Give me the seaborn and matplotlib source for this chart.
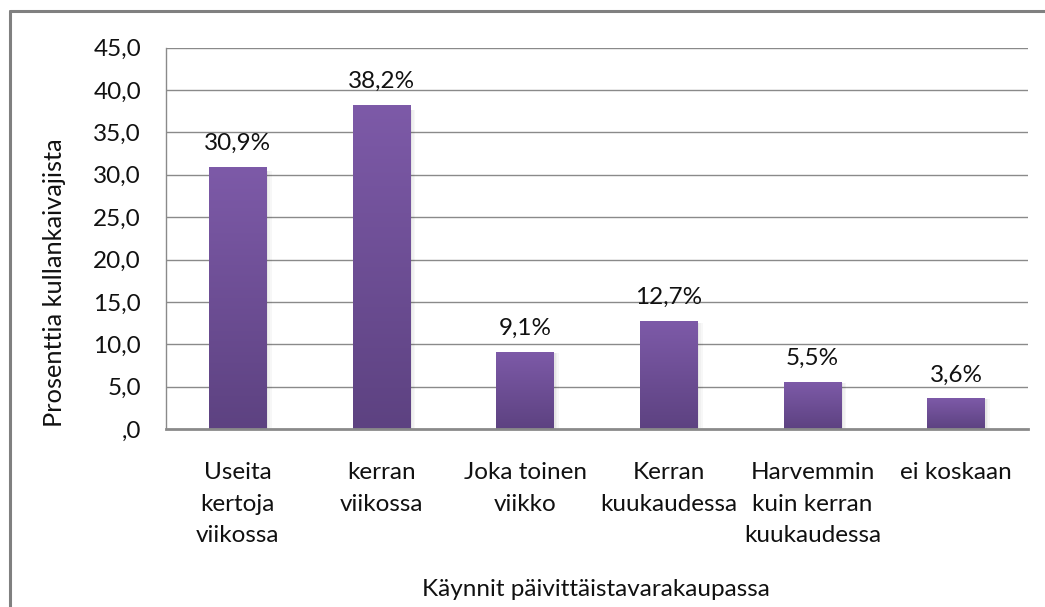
import matplotlib
matplotlib.use("Agg")
import matplotlib.pyplot as plt
import matplotlib.colors as mcolors
from matplotlib.lines import Line2D
import numpy as np
import pandas as pd
import seaborn as sns

categories = ["Useita\nkertoja\nviikossa", "kerran\nviikossa", "Joka toinen\nviikko",
              "Kerran\nkuukaudessa", "Harvemmin\nkuin kerran\nkuukaudessa", "ei koskaan"]
values = [30.9, 38.2, 9.1, 12.7, 5.5, 3.6]
value_labels = ["30,9%", "38,2%", "9,1%", "12,7%", "5,5%", "3,6%"]
y_ticks = [0, 5, 10, 15, 20, 25, 30, 35, 40, 45]
y_tick_labels = [",0", "5,0", "10,0", "15,0", "20,0", "25,0", "30,0", "35,0", "40,0", "45,0"]
x_title = "Käynnit päivittäistavarakaupassa"
y_title = "Prosenttia kullankaivajista"

sns.set_theme(style="white")
plt.rcParams['font.family'] = ['Lato', 'DejaVu Sans']

W, H = 1045, 607
FS = 17.5
fig = plt.figure(figsize=(W / 100, H / 100), dpi=100)
fig.patch.set_facecolor("white")

left, right, top, bottom = 166, 1028, 47.7, 429
ax = fig.add_axes([left / W, 1 - bottom / H, (right - left) / W, (bottom - top) / H])

df = pd.DataFrame({"cat": categories, "val": values})
sns.barplot(data=df, x="cat", y="val", order=categories, color="#6E4E96",
            width=0.40, ax=ax, zorder=3)

ax.set_ylim(0, 45)
ax.set_xlim(-0.5, len(categories) - 0.5)
ax.set_yticks(y_ticks)
ax.set_yticklabels(y_tick_labels, fontsize=FS, color="#111111")
ax.tick_params(axis="y", length=0, pad=18)
ax.tick_params(axis="x", length=0, pad=24)
for lbl in ax.get_xticklabels():
    lbl.set_fontsize(FS)
    lbl.set_color("#111111")
    lbl.set_linespacing(1.62)
ax.set_xlabel("")
ax.set_ylabel("")

for yv in y_ticks[1:]:
    ax.axhline(yv, color="#8a8a8a", lw=1.0, zorder=1)

for s in ["top", "right"]:
    ax.spines[s].set_visible(False)
ax.spines["left"].set_color("#8a8a8a")
ax.spines["left"].set_linewidth(1.0)
ax.spines["bottom"].set_color("#8a8a8a")
ax.spines["bottom"].set_linewidth(2.0)
ax.spines["bottom"].set_zorder(5)

# gradient bars
cmap = mcolors.LinearSegmentedColormap.from_list("g", ["#5D4281", "#7D5AA8"])
grad = np.linspace(0, 1, 256).reshape(-1, 1)
for p, v, lab in zip(ax.patches, values, value_labels):
    x0, w = p.get_x(), p.get_width()
    h = p.get_height()
    # soft shadow
    for k, a in enumerate([0.10, 0.06, 0.03]):
        ax.add_patch(plt.Rectangle((x0 + w + k * 0.012, 0), 0.012, h * 0.985,
                                   color="black", alpha=a, lw=0, zorder=2))
    im = ax.imshow(grad, extent=[x0, x0 + w, 0, h], origin="lower", cmap=cmap,
                   aspect="auto", zorder=4)
    im.set_clip_path(p)
    p.set_facecolor("none")
    p.set_edgecolor("none")
    ax.annotate(lab, (x0 + w / 2, h), xytext=(0, 17), textcoords="offset points",
                ha="center", va="center", fontsize=FS, color="#111111", zorder=6)

ax.set_xlim(-0.5, len(categories) - 0.5)
ax.set_ylim(0, 45)

fig.text(596 / W, 1 - 589 / H, x_title, ha="center", va="center", fontsize=FS, color="#111111")
fig.text(55 / W, 1 - 283 / H, y_title, ha="center", va="center", rotation=90,
         fontsize=18.3, color="#111111")

# outer frame (only left and top edges visible)
fig.add_artist(Line2D([10 / W, 10 / W], [0, 1 - 11 / H], transform=fig.transFigure,
                      color="#808080", lw=2.2))
fig.add_artist(Line2D([10 / W, 1], [1 - 11 / H, 1 - 11 / H], transform=fig.transFigure,
                      color="#808080", lw=2.2))

fig.savefig("out.png", dpi=100, facecolor="white")
